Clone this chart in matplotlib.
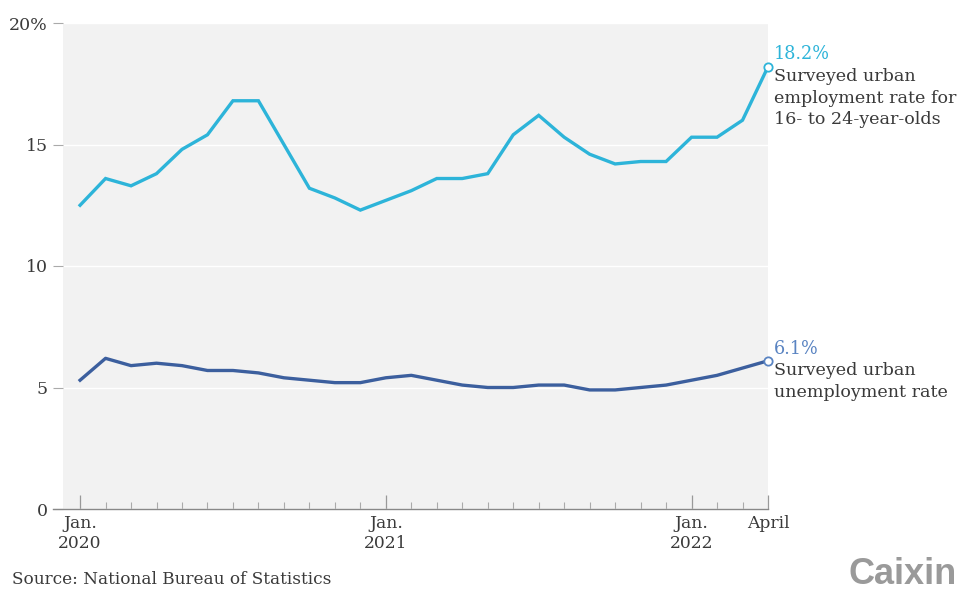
import matplotlib.pyplot as plt

# monthly data Jan 2020 - Apr 2022
youth = [12.5, 13.6, 13.3, 13.8, 14.8, 15.4, 16.8, 16.8, 15.0, 13.2, 12.8, 12.3,
         12.7, 13.1, 13.6, 13.6, 13.8, 15.4, 16.2, 15.3, 14.6, 14.2, 14.3, 14.3,
         15.3, 15.3, 16.0, 18.2]
urban = [5.3, 6.2, 5.9, 6.0, 5.9, 5.7, 5.7, 5.6, 5.4, 5.3, 5.2, 5.2,
         5.4, 5.5, 5.3, 5.1, 5.0, 5.0, 5.1, 5.1, 4.9, 4.9, 5.0, 5.1,
         5.3, 5.5, 5.8, 6.1]
months = list(range(len(youth)))
xlabels = ["Jan.\n2020", "Jan.\n2021", "Jan.\n2022", "April"]
xlabel_pos = [0, 12, 24, 27]
yticks = [0, 5, 10, 15, 20]
ylabels = ["0", "5", "10", "15", "20%"]

c_youth = "#2db4d9"
c_urban = "#3c5f9e"
c_urban_lbl = "#5a84c2"
txt = "#3a3a3a"
serif = "DejaVu Serif"

fig = plt.figure(figsize=(9.6, 5.9), dpi=100)
ax = fig.add_axes([63/960, 81/590, 705/960, 486/590])
ax.set_facecolor("#f2f2f2")
ax.set_xlim(-0.67, 27)
ax.set_ylim(0, 20)
for s in ax.spines.values():
    s.set_visible(False)

ax.grid(axis="y", color="white", linewidth=1)
ax.set_axisbelow(True)

ax.plot(months, youth, color=c_youth, lw=2.4, solid_joinstyle="miter", clip_on=False, zorder=3)
ax.plot(months, urban, color=c_urban, lw=2.4, clip_on=False, zorder=3)
ax.plot(months[-1], youth[-1], "o", ms=6, mfc="white", mec=c_youth, mew=1.3, clip_on=False, zorder=4)
ax.plot(months[-1], urban[-1], "o", ms=6, mfc="white", mec=c_urban_lbl, mew=1.3, clip_on=False, zorder=4)

# x axis line, extends a bit to the left
ax.plot([-10/705, 1], [0, 0], transform=ax.transAxes, color="#888888", lw=1, clip_on=False, zorder=2)

ax.set_yticks(yticks)
ax.set_yticklabels(ylabels, family=serif, fontsize=12.5, color=txt)
ax.tick_params(axis="y", length=7, width=0.8, color="#aaaaaa", pad=4)

ax.set_xticks(xlabel_pos)
ax.set_xticklabels(xlabels, family=serif, fontsize=12.3, color=txt, linespacing=1.25)
ax.set_xticks(months, minor=True)
ax.tick_params(axis="x", which="major", direction="in", length=10, width=0.9, color="#999999", pad=4)
ax.tick_params(axis="x", which="minor", direction="in", length=5, width=0.8, color="#aaaaaa")

# end labels
ax.annotate("18.2%", (months[-1], youth[-1]), xytext=(4, 3), textcoords="offset points",
            family=serif, fontsize=12.7, color=c_youth, va="bottom", ha="left", annotation_clip=False)
ax.annotate("Surveyed urban\nemployment rate for\n16- to 24-year-olds", (months[-1], youth[-1]),
            xytext=(4, -1), textcoords="offset points", family=serif, fontsize=12.6, color=txt,
            va="top", ha="left", linespacing=1.35, annotation_clip=False)
ax.annotate("6.1%", (months[-1], urban[-1]), xytext=(4, 2), textcoords="offset points",
            family=serif, fontsize=12.7, color=c_urban_lbl, va="bottom", ha="left", annotation_clip=False)
ax.annotate("Surveyed urban\nunemployment rate", (months[-1], urban[-1]),
            xytext=(4, -1), textcoords="offset points", family=serif, fontsize=12.6, color=txt,
            va="top", ha="left", linespacing=1.35, annotation_clip=False)

fig.text(12/960, 1 - 580/590, "Source: National Bureau of Statistics", family=serif,
         fontsize=12.2, color=txt, va="center", ha="left")
fig.text(957/960, 1 - 574/590, "Caixin", family="Liberation Sans", fontweight="bold",
         fontsize=26, color="#9a9a9a", va="center", ha="right")

fig.savefig("out.png", dpi=100)
